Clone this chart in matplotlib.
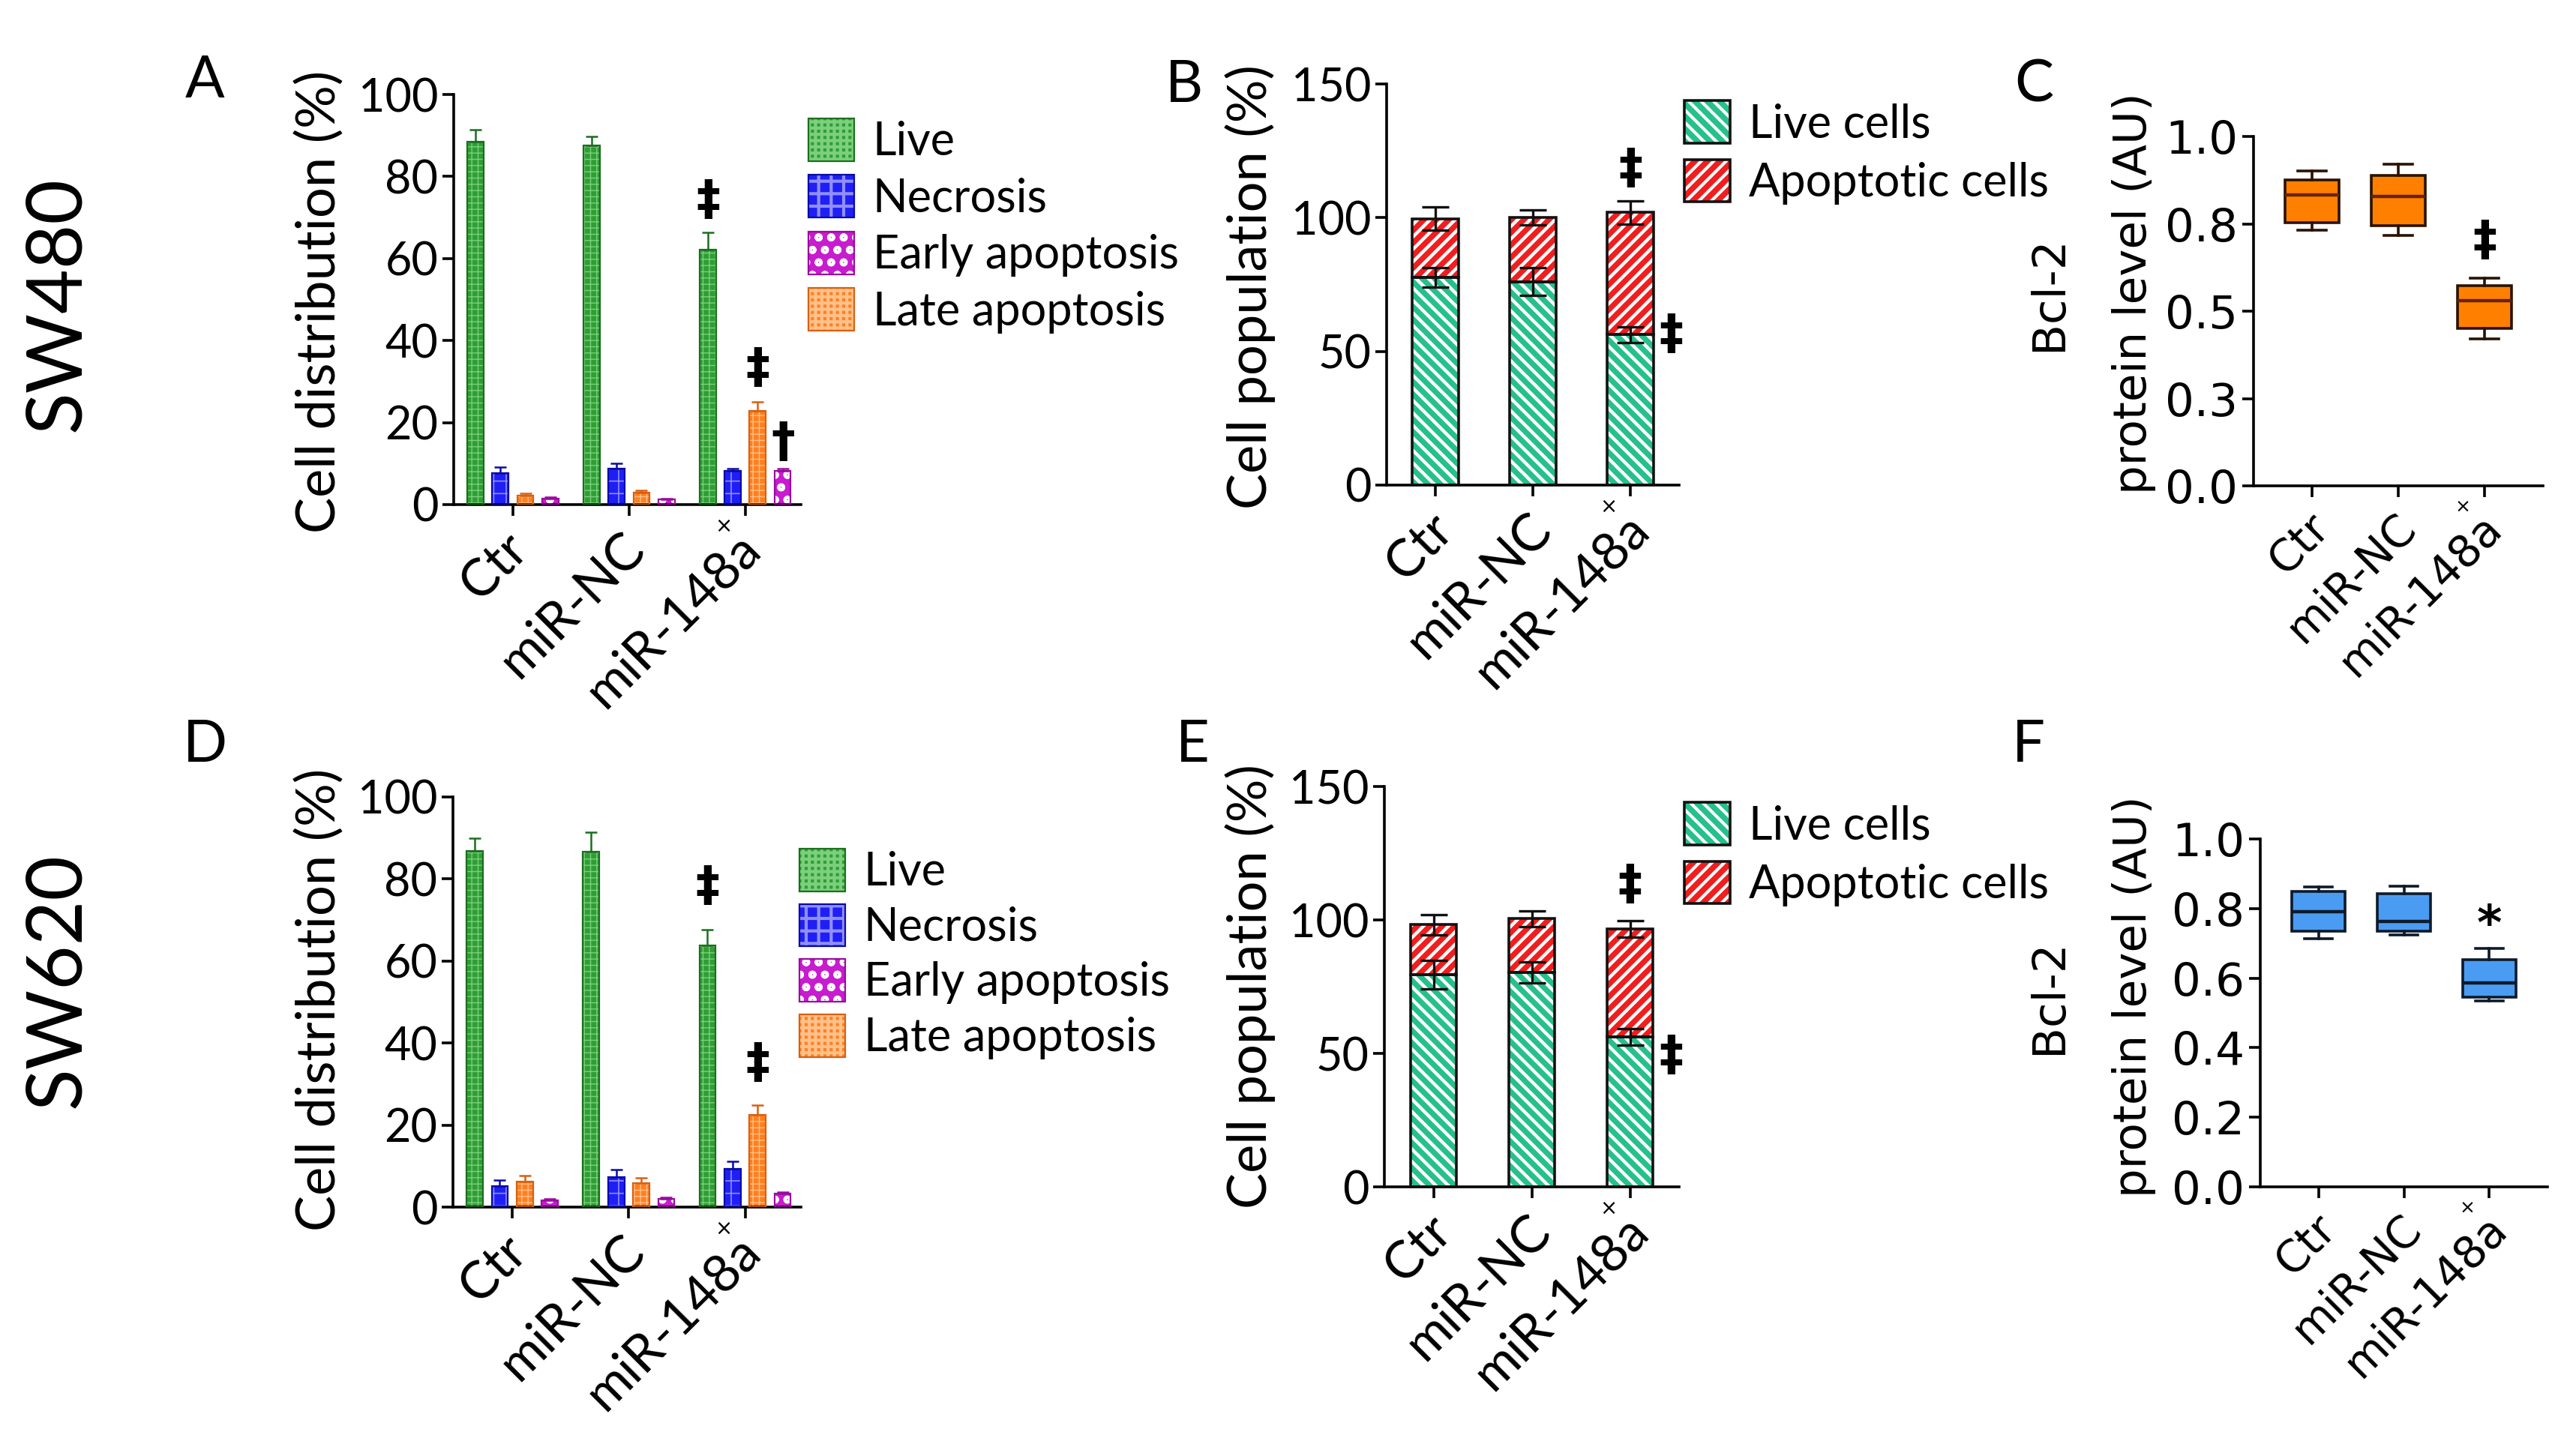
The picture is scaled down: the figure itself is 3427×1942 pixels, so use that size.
import numpy as np
import matplotlib
matplotlib.use("Agg")
import matplotlib.pyplot as plt
import matplotlib.transforms as mtransforms
from matplotlib.legend_handler import HandlerTuple

plt.rcParams['font.family'] = ['Lato', 'DejaVu Sans']
plt.rcParams['axes.linewidth'] = 2.6
plt.rcParams['hatch.linewidth'] = 3.0

# ---- data ----
groups = ['Ctr', 'miR-NC', 'miR-148a']
dist_series = ['Live', 'Necrosis', 'Early apoptosis', 'Late apoptosis']

# SW480, cell distribution (%)
a_live = [88.5, 87.6, 62.2]
a_live_err = [2.9, 2.2, 4.2]
a_necr = [7.7, 8.7, 8.2]
a_necr_err = [1.5, 1.3, 0.6]
a_early = [1.5, 1.2, 8.2]
a_early_err = [0.3, 0.3, 0.6]
a_late = [2.2, 3.0, 22.9]
a_late_err = [0.5, 0.5, 2.1]

# SW620, cell distribution (%)
d_live = [86.9, 86.6, 63.8]
d_live_err = [3.1, 4.8, 3.9]
d_necr = [5.1, 7.4, 9.4]
d_necr_err = [1.5, 1.7, 1.8]
d_early = [1.7, 2.0, 3.2]
d_early_err = [0.3, 0.3, 0.5]
d_late = [6.3, 5.9, 22.5]
d_late_err = [1.4, 1.2, 2.4]

# cell population (%): live + apoptotic stacked
b_live = [77.6, 76.0, 56.3]
b_live_err = [3.6, 5.2, 2.9]
b_apop = [22.0, 24.1, 45.7]
b_total_err = [4.4, 2.8, 4.3]

e_live = [79.4, 80.3, 56.2]
e_live_err = [5.3, 4.0, 3.2]
e_apop = [18.8, 20.2, 40.4]
e_total_err = [3.8, 3.0, 3.2]

# Bcl-2 box plots: whisker low, q1, median, q3, whisker high
c_whislo = [0.732, 0.716, 0.421]
c_q1 = [0.753, 0.744, 0.451]
c_med = [0.833, 0.828, 0.529]
c_q3 = [0.876, 0.889, 0.574]
c_whishi = [0.902, 0.920, 0.594]

f_whislo = [0.713, 0.725, 0.535]
f_q1 = [0.735, 0.735, 0.546]
f_med = [0.792, 0.764, 0.587]
f_q3 = [0.849, 0.842, 0.654]
f_whishi = [0.863, 0.865, 0.686]

W, H = 3427, 1942
fig = plt.figure(figsize=(W / 100, H / 100), dpi=100)


def add_ax(l, r, t, b):
    return fig.add_axes([l / W, 1 - b / H, (r - l) / W, (b - t) / H])


def ftext(x, y, s, **kw):
    fig.text(x / W, 1 - y / H, s, **kw)


def style(ax, xs=50, ys=44, dx=-7):
    for s in ['top', 'right']:
        ax.spines[s].set_visible(False)
    ax.tick_params(direction='out', length=11, width=2.6, pad=4)
    ax.tick_params(axis='y', labelsize=ys)
    ax.tick_params(axis='x', labelsize=xs, pad=8)
    off = mtransforms.ScaledTranslation(dx / 72, 0, fig.dpi_scale_trans)
    for lab in ax.get_xticklabels():
        lab.set_transform(lab.get_transform() + off)


def set_hlw(p, lw):
    if hasattr(p, 'set_hatch_linewidth'):
        p.set_hatch_linewidth(lw)


def mark(ax, xa, ya, s):
    ax.text(xa, ya, s, ha='center', va='center', fontsize=46, fontweight='bold',
            family=['DejaVu Sans'], clip_on=False)


def dist_panel(ax, vals, errs, ann):
    # bar order in the plot: Live, Necrosis, Late, Early
    faces = {'Live': '#2f9e35', 'Necrosis': '#1f1ff5', 'Early apoptosis': '#c81ccf',
             'Late apoptosis': '#ff8020'}
    hcols = {'Live': '#7ccf7c', 'Necrosis': '#8f8fff', 'Early apoptosis': 'white',
             'Late apoptosis': '#ffc08a'}
    edges = {'Live': '#1b6e1e', 'Necrosis': '#0a0aa8', 'Early apoptosis': '#9a0aa0',
             'Late apoptosis': '#d96010'}
    hatches = {'Live': '++', 'Necrosis': '+', 'Early apoptosis': 'o', 'Late apoptosis': '++'}
    hlws = {'Live': 1.0, 'Necrosis': 1.2, 'Early apoptosis': 3.0, 'Late apoptosis': 1.0}
    order = ['Live', 'Necrosis', 'Late apoptosis', 'Early apoptosis']
    x = np.arange(len(groups))
    step, w = 0.215, 0.14
    handles = {}
    for k, name in enumerate(order):
        xs = x + (k - 1.5) * step
        with plt.rc_context({'hatch.linewidth': hlws[name]}):
            b1 = ax.bar(xs, vals[name], w, color=faces[name], edgecolor=hcols[name],
                        hatch=hatches[name], linewidth=0, zorder=2)
            for p in b1:
                set_hlw(p, hlws[name])
        b2 = ax.bar(xs, vals[name], w, facecolor='none', edgecolor=edges[name],
                    linewidth=1.6, zorder=3)
        ax.errorbar(xs, vals[name], yerr=[np.zeros(3), errs[name]], fmt='none',
                    ecolor=edges[name], elinewidth=1.8, capsize=6, capthick=1.8, zorder=3)
        handles[name] = (b1.patches[0], b2.patches[0])
    ax.set_xlim(-0.51, 2.48)
    ax.set_ylim(0, 100)
    ax.set_yticks([0, 20, 40, 60, 80, 100])
    ax.set_xticks(x)
    ax.set_xticklabels(groups, rotation=45, ha='right', va='top', rotation_mode='anchor')
    style(ax, dx=-9)
    for (xa, ya, s) in ann:
        mark(ax, xa, ya, s)
    return [handles[n] for n in dist_series]


def pop_panel(ax, live, live_err, apop, tot_err, ann):
    x = np.arange(len(groups))
    w = 0.47
    with plt.rc_context({'hatch.linewidth': 3.2}):
        bl = ax.bar(x, live, w, color='#25c08c', edgecolor='white', hatch='\\\\', linewidth=0, zorder=2)
        ba = ax.bar(x, apop, w, bottom=live, color='#f01e1e', edgecolor='white', hatch='//',
                    linewidth=0, zorder=2)
        for p in list(bl) + list(ba):
            set_hlw(p, 3.2)
    ol = ax.bar(x, live, w, facecolor='none', edgecolor='#111111', linewidth=2.6, zorder=3)
    oa = ax.bar(x, apop, w, bottom=live, facecolor='none', edgecolor='#111111', linewidth=2.6, zorder=3)
    total = np.array(live) + np.array(apop)
    ax.errorbar(x, live, yerr=live_err, fmt='none', ecolor='#111111', elinewidth=2.4,
                capsize=13, capthick=2.4, zorder=4)
    ax.errorbar(x, total, yerr=tot_err, fmt='none', ecolor='#111111', elinewidth=2.4,
                capsize=13, capthick=2.4, zorder=4)
    ax.set_xlim(-0.5, 2.5)
    ax.set_ylim(0, 150)
    ax.set_yticks([0, 50, 100, 150])
    ax.set_xticks(x)
    ax.set_xticklabels(groups, rotation=45, ha='right', va='top', rotation_mode='anchor')
    style(ax, dx=-6)
    for (xa, ya, s) in ann:
        mark(ax, xa, ya, s)
    return [(bl.patches[0], ol.patches[0]), (ba.patches[0], oa.patches[0])]


def box_panel(ax, wlo, q1, med, q3, whi, face, edge, medc, yt, ytl, ann):
    stats = []
    for i, g in enumerate(groups):
        stats.append(dict(label=g, whislo=wlo[i], q1=q1[i], med=med[i], q3=q3[i], whishi=whi[i]))
    ax.bxp(stats, positions=np.arange(3), widths=0.63, patch_artist=True, showfliers=False,
           capwidths=0.33,
           boxprops=dict(facecolor=face, edgecolor=edge, linewidth=2.6),
           medianprops=dict(color=medc, linewidth=3.2),
           whiskerprops=dict(color=edge, linewidth=2.6),
           capprops=dict(color=edge, linewidth=2.6))
    ax.set_xlim(-0.68, 2.68)
    ax.set_ylim(0, 1.0)
    ax.set_yticks(yt)
    ax.set_yticklabels(ytl, fontfamily='DejaVu Sans')
    ax.set_xticks(np.arange(3))
    ax.set_xticklabels(groups, rotation=45, ha='right', va='top', rotation_mode='anchor',
                       fontfamily='DejaVu Sans')
    style(ax, xs=42, ys=44, dx=-4)
    for (xa, ya, s) in ann:
        mark(ax, xa, ya, s)


def cross_mark(ax, fs=20):
    ax.annotate('×', xy=(2, 0), xycoords=('data', 'axes fraction'), xytext=(-21, -21),
                textcoords='offset points', ha='center', va='center', fontsize=fs,
                family=['DejaVu Sans'])


def legend(ax, handles, labels, x, y, lsp=0.25):
    ax.legend(handles, labels, handler_map={tuple: HandlerTuple(ndivide=1)}, loc='upper left',
              bbox_to_anchor=(x / W, 1 - y / H), bbox_transform=fig.transFigure,
              frameon=False, fontsize=44, handlelength=1.0, handleheight=1.05,
              labelspacing=lsp, handletextpad=0.4, borderpad=0, borderaxespad=0)


# ---- panel A ----
axA = add_ax(605, 1068, 126, 673)
hA = dist_panel(axA,
                {'Live': a_live, 'Necrosis': a_necr, 'Early apoptosis': a_early, 'Late apoptosis': a_late},
                {'Live': a_live_err, 'Necrosis': a_necr_err, 'Early apoptosis': a_early_err,
                 'Late apoptosis': a_late_err},
                [(2 - 0.32, 74, '‡'), (2 + 0.11, 33, '‡'), (2 + 0.33, 15, '†')])
cross_mark(axA)
legend(axA, hA, dist_series, 1078, 158)

# ---- panel D ----
axD = add_ax(604, 1068, 1063, 1610)
hD = dist_panel(axD,
                {'Live': d_live, 'Necrosis': d_necr, 'Early apoptosis': d_early, 'Late apoptosis': d_late},
                {'Live': d_live_err, 'Necrosis': d_necr_err, 'Early apoptosis': d_early_err,
                 'Late apoptosis': d_late_err},
                [(2 - 0.32, 78, '‡'), (2 + 0.11, 35, '‡')])
cross_mark(axD)
legend(axD, hD, dist_series, 1066, 1132, lsp=0.22)

# ---- panel B ----
axB = add_ax(1849, 2239, 112, 647)
hB = pop_panel(axB, b_live, b_live_err, b_apop, b_total_err, [(2, 118, '‡'), (2.42, 56, '‡')])
cross_mark(axB)
legend(axB, hB, ['Live cells', 'Apoptotic cells'], 2246, 134, lsp=0.3)

# ---- panel E ----
axE = add_ax(1846, 2239, 1049, 1583)
hE = pop_panel(axE, e_live, e_live_err, e_apop, e_total_err, [(2, 113, '‡'), (2.42, 49, '‡')])
cross_mark(axE)
legend(axE, hE, ['Live cells', 'Apoptotic cells'], 2246, 1070, lsp=0.3)

# ---- panel C ----
axC = add_ax(3005, 3391, 182, 648)
box_panel(axC, c_whislo, c_q1, c_med, c_q3, c_whishi, '#ff8000', '#2a1200', '#6a2200',
          [0, 0.25, 0.5, 0.75, 1.0], ['0.0', '0.3', '0.5', '0.8', '1.0'], [(2, 0.70, '‡')])
cross_mark(axC, fs=18)

# ---- panel F ----
axF = add_ax(3014, 3397, 1119, 1583)
box_panel(axF, f_whislo, f_q1, f_med, f_q3, f_whishi, '#4a9cf2', '#0d1a2b', '#0d1a2b',
          [0, 0.2, 0.4, 0.6, 0.8, 1.0], ['0.0', '0.2', '0.4', '0.6', '0.8', '1.0'], [(2, 0.75, '*')])
cross_mark(axF, fs=18)

# ---- labels ----
ftext(426, 402, 'Cell distribution (%)', rotation=90, ha='center', va='center', fontsize=52)
ftext(426, 1333, 'Cell distribution (%)', rotation=90, ha='center', va='center', fontsize=52)
ftext(1667, 383, 'Cell population (%)', rotation=90, ha='center', va='center', fontsize=52)
ftext(1667, 1316, 'Cell population (%)', rotation=90, ha='center', va='center', fontsize=52)
for yc in (391, 1329):
    ftext(2732, yc, 'Bcl-2', rotation=90, ha='center', va='center', fontsize=44, family='DejaVu Sans')
    ftext(2845, yc, 'protein level (AU)', rotation=90, ha='center', va='center', fontsize=44,
          family='DejaVu Sans')

ftext(77, 405, 'SW480', rotation=90, ha='center', va='center', fontsize=74)
ftext(77, 1308, 'SW620', rotation=90, ha='center', va='center', fontsize=74)
for (x, y, s) in [(273, 109, 'A'), (1579, 114, 'B'), (2712, 114, 'C'),
                  (273, 995, 'D'), (1590, 995, 'E'), (2705, 995, 'F')]:
    ftext(x, y, s, ha='center', va='center', fontsize=56)

fig.savefig('out.png', dpi=100, facecolor='white')
